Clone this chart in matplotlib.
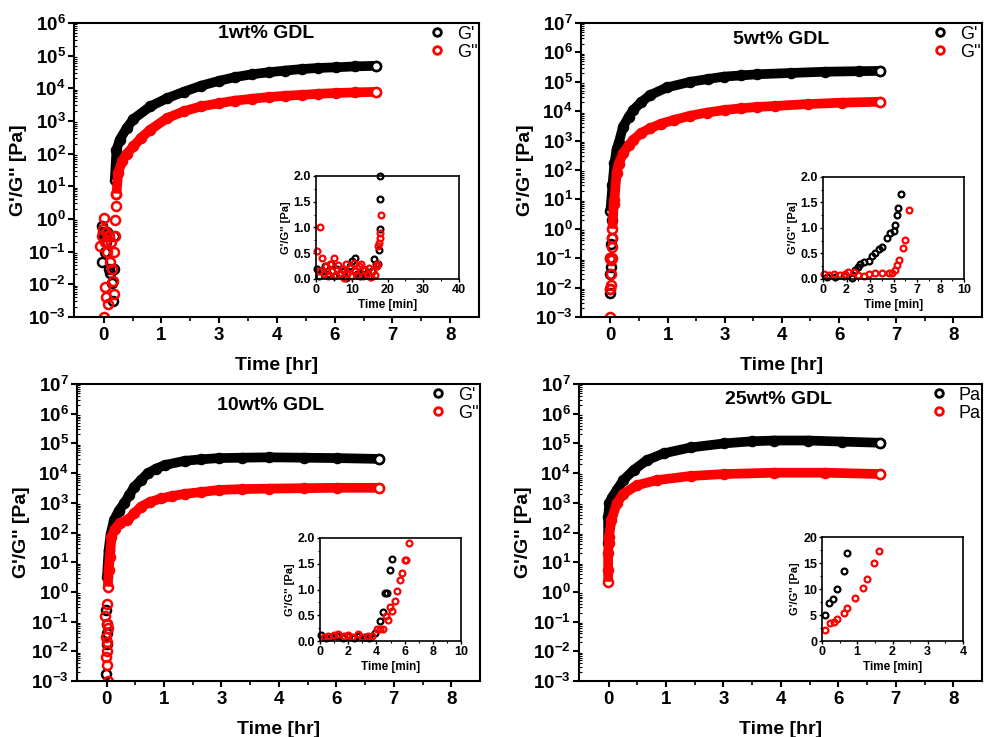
import numpy as np
import matplotlib
matplotlib.use("Agg")
import matplotlib.pyplot as plt
from matplotlib.ticker import FixedLocator, FormatStrFormatter, LogLocator, NullFormatter

plt.rcParams['font.family'] = ['Liberation Sans', 'DejaVu Sans']
plt.rcParams['font.weight'] = 'bold'
plt.rcParams['mathtext.fontset'] = 'custom'
plt.rcParams['mathtext.rm'] = 'Liberation Sans:bold'
plt.rcParams['mathtext.default'] = 'rm'

# ---------------- data ----------------
titles = ["1wt% GDL", "5wt% GDL", "10wt% GDL", "25wt% GDL"]
legend_labels = [["G'", "G''"], ["G'", "G''"], ["G'", "G''"], ["Pa", "Pa"]]
ytops = [1e6, 1e7, 1e7, 1e7]

# 1wt% main curves [hr], [Pa]
t1_gp = [0.27, 0.31, 0.39, 0.56, 0.72, 1.13, 1.54, 1.95, 2.36, 2.8, 3.18, 3.6, 4.0, 4.4, 4.81, 5.2, 5.63, 6.1, 6.61]
gp1 = [16, 130, 270, 610, 1150, 2800, 5000, 7900, 12000, 17000, 22000, 27000, 31000, 35000, 39000, 42000, 44000, 47000, 49000]
t1_gpp = [0.31, 0.35, 0.45, 0.56, 0.72, 0.9, 1.13, 1.54, 1.95, 2.36, 2.8, 3.18, 3.6, 4.0, 4.4, 4.81, 5.2, 5.63, 6.1, 6.61]
gpp1 = [6, 26, 60, 100, 166, 300, 540, 1230, 2000, 2800, 3500, 4200, 4800, 5400, 5900, 6300, 6800, 7200, 7500, 7800]
# 1wt% scattered start
t1_gp_start = [-0.05, -0.03, -0.02, 0.0, 0.02, 0.05, 0.08, 0.12, 0.15, 0.2, 0.22, 0.25, 0.26]
gp1_start = [0.05, 0.6, 0.4, 0.3, 0.1, 0.2, 0.4, 0.03, 0.022, 0.011, 0.003, 0.03, 0.3]
t1_gpp_start = [-0.08, -0.05, -0.02, 0.0, 0.0, 0.02, 0.03, 0.05, 0.06, 0.08, 0.1, 0.12, 0.15, 0.18, 0.2, 0.22, 0.24, 0.25, 0.27, 0.28, 0.3, 0.3]
gpp1_start = [0.15, 0.3, 0.5, 1.05, 0.001, 0.2, 0.008, 0.4, 0.004, 0.1, 0.0025, 0.3, 0.05, 0.2, 0.03, 0.013, 0.005, 0.1, 0.3, 0.9, 2.5, 6]

# 5wt%
t5_gp = [0.0, 0.05, 0.1, 0.15, 0.2, 0.31, 0.45, 0.56, 0.75, 0.97, 1.38, 1.96, 2.4, 2.78, 3.2, 3.6, 4.43, 5.25, 6.08, 6.61]
gp5 = [4, 30, 170, 500, 800, 3000, 6500, 11000, 20000, 35000, 64000, 100000, 125000, 150000, 165000, 180000, 200000, 220000, 230000, 235000]
t5_gpp = [0.05, 0.08, 0.1, 0.15, 0.2, 0.31, 0.45, 0.56, 0.75, 0.97, 1.25, 1.55, 1.95, 2.37, 2.8, 3.2, 3.6, 4.02, 4.84, 5.67, 6.61]
gpp5 = [1, 7, 9.6, 78, 160, 370, 700, 1050, 1800, 2600, 3800, 5000, 7000, 9000, 11000, 12500, 14000, 15000, 17500, 19500, 21000]
t5_gp_start = [-0.02, -0.01, 0.0, 0.0, 0.01, 0.02, 0.03, 0.04]
gp5_start = [0.03, 0.1, 0.0065, 0.009, 0.05, 0.3, 0.5, 2]
t5_gpp_start = [-0.02, -0.01, 0.0, 0.01, 0.01, 0.02, 0.03, 0.04, 0.05]
gpp5_start = [0.1, 0.009, 0.001, 0.03, 0.012, 0.09, 0.1, 0.25, 0.5]

# 10wt%
t10_gp = [0.01, 0.05, 0.1, 0.18, 0.3, 0.43, 0.55, 0.68, 0.85, 1.0, 1.2, 1.42, 1.91, 2.3, 2.73, 3.3, 3.97, 4.8, 5.62, 6.65]
gp10 = [3.2, 25, 90, 260, 550, 960, 1800, 3500, 6000, 9800, 14000, 18600, 26000, 29000, 32000, 33000, 34000, 33000, 32000, 30000]
t10_gpp = [0.03, 0.05, 0.08, 0.12, 0.2, 0.33, 0.51, 0.68, 0.84, 1.05, 1.33, 1.6, 1.91, 2.3, 2.73, 3.3, 3.97, 4.8, 5.62, 6.65]
gpp10 = [1.5, 5.4, 15, 71, 130, 210, 260, 450, 740, 1050, 1400, 1700, 2000, 2300, 2700, 2900, 3000, 3100, 3200, 3200]
t10_gp_start = [-0.02, -0.01, 0.0, 0.01, 0.02]
gp10_start = [0.0017, 0.24, 0.085, 0.018, 0.04]
t10_gpp_start = [-0.03, -0.02, -0.01, 0.0, 0.0, 0.01, 0.02, 0.02, 0.03, 0.03]
gpp10_start = [0.15, 0.03, 0.0065, 0.4, 0.085, 0.02, 0.0034, 0.0105, 0.001, 0.06]

# 25wt%
t25_gp = [-0.01, -0.01, 0.02, 0.08, 0.2, 0.36, 0.61, 0.93, 1.34, 2.0, 2.82, 3.5, 4.04, 4.86, 5.68, 6.62]
gp25 = [43, 340, 950, 1500, 2700, 5800, 12600, 27000, 46000, 73000, 100000, 118000, 125000, 125000, 115000, 105000]
t25_gpp = [-0.01, -0.01, -0.01, 0.0, 0.01, 0.07, 0.2, 0.36, 0.69, 1.18, 2.0, 2.82, 4.04, 5.27, 6.62]
gpp25 = [2.2, 5.4, 20, 45, 71, 260, 950, 2000, 3900, 5800, 8000, 9300, 10300, 10300, 9300]

# insets [min], [Pa]
i1_gp_t = [0.2, 0.9, 1.7, 2.6, 3.4, 4.3, 5.1, 6.0, 6.8, 7.7, 8.5, 9.4, 10.2, 10.8, 11.5, 12.3, 13.2, 14.0, 14.9, 15.7, 16.3, 16.8, 17.3, 17.6, 17.8, 17.9, 18.0]
i1_gp = [0.2, 0.05, 0.15, 0.25, 0.1, 0.3, 0.05, 0.2, 0.1, 0.15, 0.02, 0.25, 0.35, 0.4, 0.1, 0.05, 0.2, 0.1, 0.05, 0.15, 0.38, 0.3, 0.3, 0.56, 0.98, 1.55, 2.0]
i1_gpp_t = [0.3, 0.8, 1.1, 1.6, 2.2, 2.8, 3.3, 3.9, 4.4, 5.0, 5.5, 6.1, 6.6, 7.2, 7.7, 8.3, 8.8, 9.4, 9.9, 10.5, 11.0, 11.6, 12.1, 12.7, 13.2, 13.8, 14.3, 14.9, 15.4, 16.0, 16.5, 17.0, 17.2, 17.4, 17.6, 17.8, 18.0, 18.2]
i1_gpp = [0.55, 0.15, 1.0, 0.4, 0.1, 0.25, 0.05, 0.3, 0.15, 0.4, 0.08, 0.28, 0.12, 0.2, 0.02, 0.3, 0.1, 0.22, 0.05, 0.32, 0.15, 0.08, 0.25, 0.3, 0.05, 0.18, 0.1, 0.22, 0.03, 0.15, 0.08, 0.25, 0.3, 0.65, 0.7, 0.9, 0.8, 1.25]

i5_gp_t = [0.28, 0.87, 1.46, 2.05, 2.29, 2.5, 2.64, 2.88, 3.23, 3.47, 3.7, 3.94, 4.17, 4.53, 4.76, 5.0, 5.12, 5.28, 5.35, 5.5]
i5_gp = [0.03, 0.03, 0.05, 0.01, 0.18, 0.24, 0.29, 0.34, 0.36, 0.46, 0.5, 0.59, 0.63, 0.8, 0.9, 0.94, 1.06, 1.25, 1.4, 1.67]
i5_gpp_t = [0.05, 0.4, 0.75, 1.23, 1.58, 1.8, 2.17, 2.5, 2.88, 3.23, 3.7, 4.17, 4.65, 4.88, 5.12, 5.28, 5.42, 5.66, 5.82, 6.13]
i5_gpp = [0.1, 0.08, 0.09, 0.07, 0.09, 0.14, 0.13, 0.08, 0.06, 0.09, 0.11, 0.11, 0.12, 0.12, 0.18, 0.27, 0.37, 0.61, 0.76, 1.35]

i10_gp_t = [0.1, 0.4, 0.8, 1.2, 1.6, 2.0, 2.4, 2.8, 3.2, 3.5, 3.88, 4.25, 4.49, 4.6, 4.73, 4.97, 5.09]
i10_gp = [0.12, 0.05, 0.08, 0.1, 0.06, 0.09, 0.05, 0.1, 0.08, 0.06, 0.15, 0.38, 0.57, 0.93, 0.94, 1.37, 1.59]
i10_gpp_t = [0.3, 0.6, 1.0, 1.3, 1.7, 2.0, 2.3, 2.7, 3.0, 3.4, 3.7, 4.01, 4.25, 4.49, 4.68, 4.8, 4.97, 5.09, 5.33, 5.45, 5.65, 5.81, 6.05, 6.13, 6.3]
i10_gpp = [0.08, 0.1, 0.12, 0.13, 0.1, 0.12, 0.08, 0.13, 0.07, 0.1, 0.09, 0.23, 0.23, 0.23, 0.48, 0.41, 0.66, 0.58, 0.78, 0.97, 1.18, 1.32, 1.57, 1.58, 1.9]

i25_gp_t = [0.09, 0.21, 0.31, 0.42, 0.61, 0.72]
i25_gp = [5.0, 7.35, 8.0, 10.0, 13.5, 17.0]
i25_gpp_t = [0.09, 0.24, 0.33, 0.42, 0.61, 0.72, 0.94, 1.16, 1.27, 1.48, 1.61]
i25_gpp = [2.2, 3.4, 3.6, 4.3, 5.4, 6.4, 8.3, 10.2, 12.0, 15.0, 17.3]

inset_xlims = [40, 10, 10, 4]
inset_ylims = [2.0, 2.0, 2.0, 20]
inset_xticks = [[0, 10, 20, 30, 40], list(np.linspace(0, 10, 7)), [0, 2, 4, 6, 8, 10], [0, 1, 2, 3, 4]]
inset_yticks = [[0, 0.5, 1.0, 1.5, 2.0]] * 3 + [[0, 5, 10, 15, 20]]
inset_yfmt = ['%.1f', '%.1f', '%.1f', '%.0f']

main = [
    (t1_gp, gp1, t1_gpp, gpp1, t1_gp_start, gp1_start, t1_gpp_start, gpp1_start),
    (t5_gp, gp5, t5_gpp, gpp5, t5_gp_start, gp5_start, t5_gpp_start, gpp5_start),
    (t10_gp, gp10, t10_gpp, gpp10, t10_gp_start, gp10_start, t10_gpp_start, gpp10_start),
    (t25_gp, gp25, t25_gpp, gpp25, [], [], [], []),
]
insets = [
    (i1_gp_t, i1_gp, i1_gpp_t, i1_gpp),
    (i5_gp_t, i5_gp, i5_gpp_t, i5_gpp),
    (i10_gp_t, i10_gp, i10_gpp_t, i10_gpp),
    (i25_gp_t, i25_gp, i25_gpp_t, i25_gpp),
]

# ---------------- layout (pixels of a 984x737 canvas) ----------------
W, H = 984, 737
main_px = [(74, 23, 479, 317), (581, 23, 982, 317), (77, 384, 480, 681), (579, 384, 982, 681)]
inset_px = [(316, 176, 459, 279), (823, 177, 964, 279), (320, 538, 461, 641), (822, 537, 963, 641)]
title_pos = [(0.474, 0.993), (0.5, 0.972), (0.479, 0.957), (0.494, 0.977)]


def frac(box):
    l, t, r, b = box
    return [l / W, 1 - b / H, (r - l) / W, (b - t) / H]


fig = plt.figure(figsize=(9.84, 7.37), dpi=100)

for k in range(4):
    ax = fig.add_axes(frac(main_px[k]))
    tg, g, tgg, gg, tg0, g0, tgg0, gg0 = main[k]
    for (tt, yy, t0, y0, c, lab) in [(tg, g, tg0, g0, 'black', legend_labels[k][0]),
                                     (tgg, gg, tgg0, gg0, 'red', legend_labels[k][1])]:
        ax.plot(t0, y0, 'o', ls='none', mfc='none', mec=c, ms=6.5, mew=1.8)
        ax.plot(tt, yy, '-', color=c, lw=7, solid_capstyle='butt')
        ax.plot(tt, yy, 'o', ls='none', mfc='none', mec=c, ms=6.5, mew=1.8)
        ax.plot(tt[-1:], yy[-1:], 'o', ls='none', mfc='white', mec=c, ms=6.5, mew=1.8)
        ax.plot([], [], 'o', ls='none', mfc='none', mec=c, ms=5.5, mew=2, label=lab)

    ax.set_yscale('log')
    ax.set_ylim(1e-3, ytops[k])
    ax.set_xlim(-0.72, 9.1)
    ax.xaxis.set_major_locator(FixedLocator(np.arange(0, 9, 1.4)))
    ax.xaxis.set_minor_locator(FixedLocator(np.arange(0.7, 9, 1.4)))
    ax.xaxis.set_major_formatter(FormatStrFormatter('%.0f'))
    ax.yaxis.set_major_locator(LogLocator(base=10, numticks=20))
    ax.yaxis.set_minor_locator(LogLocator(base=10, subs=np.arange(2, 10), numticks=20))
    ax.yaxis.set_minor_formatter(NullFormatter())
    ax.tick_params(axis='both', which='major', direction='out', length=4, width=1.5, labelsize=13.5)
    ax.tick_params(axis='y', which='major', pad=2)
    ax.tick_params(axis='x', which='minor', direction='out', length=3, width=1.2)
    ax.tick_params(axis='y', which='minor', direction='in', length=2, width=0.8)
    for s in ax.spines.values():
        s.set_linewidth(1.5)
    ax.set_xlabel('Time [hr]', fontsize=14, fontweight='bold', labelpad=9)
    ax.set_ylabel("G'/G'' [Pa]", fontsize=14, fontweight='bold', labelpad=1)
    ax.text(title_pos[k][0], title_pos[k][1], titles[k], transform=ax.transAxes,
            ha='center', va='top', fontsize=14, fontweight='bold')
    ax.legend(loc='upper right', bbox_to_anchor=(1.015, 1.015), frameon=False,
              prop={'size': 13, 'weight': 'normal'},
              handletextpad=0.5, labelspacing=0.05, borderaxespad=0.0, handlelength=1.2)

    # inset
    ia = fig.add_axes(frac(inset_px[k]))
    it, iy, itt, iyy = insets[k]
    ia.plot(it, iy, 'o', ls='none', mfc='none', mec='black', ms=4.2, mew=1.6, clip_on=False)
    ia.plot(itt, iyy, 'o', ls='none', mfc='none', mec='red', ms=4.2, mew=1.6, clip_on=False)
    ia.set_xlim(0, inset_xlims[k])
    ia.set_ylim(0, inset_ylims[k])
    ia.xaxis.set_major_locator(FixedLocator(inset_xticks[k]))
    xt = inset_xticks[k]
    ia.xaxis.set_minor_locator(FixedLocator([(a + b) / 2 for a, b in zip(xt[:-1], xt[1:])]))
    ia.xaxis.set_major_formatter(FormatStrFormatter('%.0f'))
    ia.yaxis.set_major_locator(FixedLocator(inset_yticks[k]))
    yt = inset_yticks[k]
    ia.yaxis.set_minor_locator(FixedLocator([(a + b) / 2 for a, b in zip(yt[:-1], yt[1:])]))
    ia.yaxis.set_major_formatter(FormatStrFormatter(inset_yfmt[k]))
    ia.tick_params(axis='both', which='major', direction='out', length=2.5, width=1, labelsize=9, pad=1)
    ia.tick_params(axis='both', which='minor', direction='out', length=1.5, width=0.8)
    for s in ia.spines.values():
        s.set_linewidth(1.2)
    ia.set_xlabel('Time [min]', fontsize=8.5, fontweight='bold', labelpad=2)
    ia.set_ylabel("G'/G'' [Pa]", fontsize=8, fontweight='bold', labelpad=2)

fig.savefig('out.png', dpi=100)
